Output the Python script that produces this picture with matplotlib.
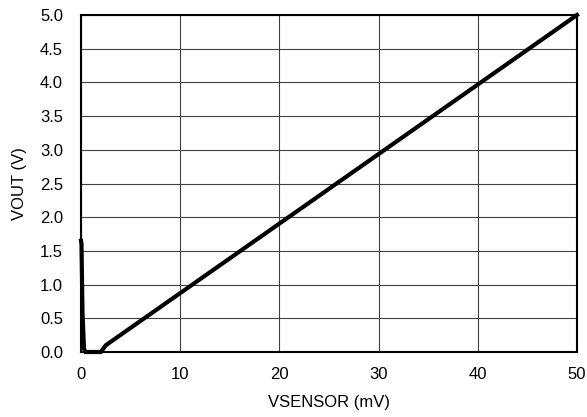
import numpy as np
import matplotlib.pyplot as plt

plt.rcParams['font.family'] = ['Liberation Sans', 'DejaVu Sans']

vsensor = [0.0, 0.05, 0.15, 0.3, 0.45, 2.0, 2.5, 50.0]
vout = [1.65, 1.6, 0.6, 0.05, 0.0, 0.0, 0.1, 5.0]

fig = plt.figure(figsize=(5.87, 4.17), dpi=100)
ax = fig.add_axes([81 / 587, 1 - 352 / 417, 496 / 587, 337 / 417])
ax.plot(vsensor, vout, color='black', linewidth=3, solid_joinstyle='miter', clip_on=False, zorder=3)

ax.set_xlim(0, 50)
ax.set_ylim(0, 5)
ax.set_xticks(np.arange(0, 51, 10))
ax.set_yticks(np.arange(0, 5.01, 0.5))
ax.set_yticklabels(['%.1f' % v for v in np.arange(0, 5.01, 0.5)])
ax.grid(True, color='#404040', linewidth=0.8)
ax.tick_params(axis='x', length=0, labelsize=12, pad=11)
ax.tick_params(axis='y', length=0, labelsize=12, pad=13)
for s in ax.spines.values():
    s.set_linewidth(1.5)
ax.set_xlabel('VSENSOR (mV)', fontsize=12, labelpad=9)
ax.set_ylabel('VOUT (V)', fontsize=12, labelpad=9)

fig.savefig('out.png', dpi=100)
